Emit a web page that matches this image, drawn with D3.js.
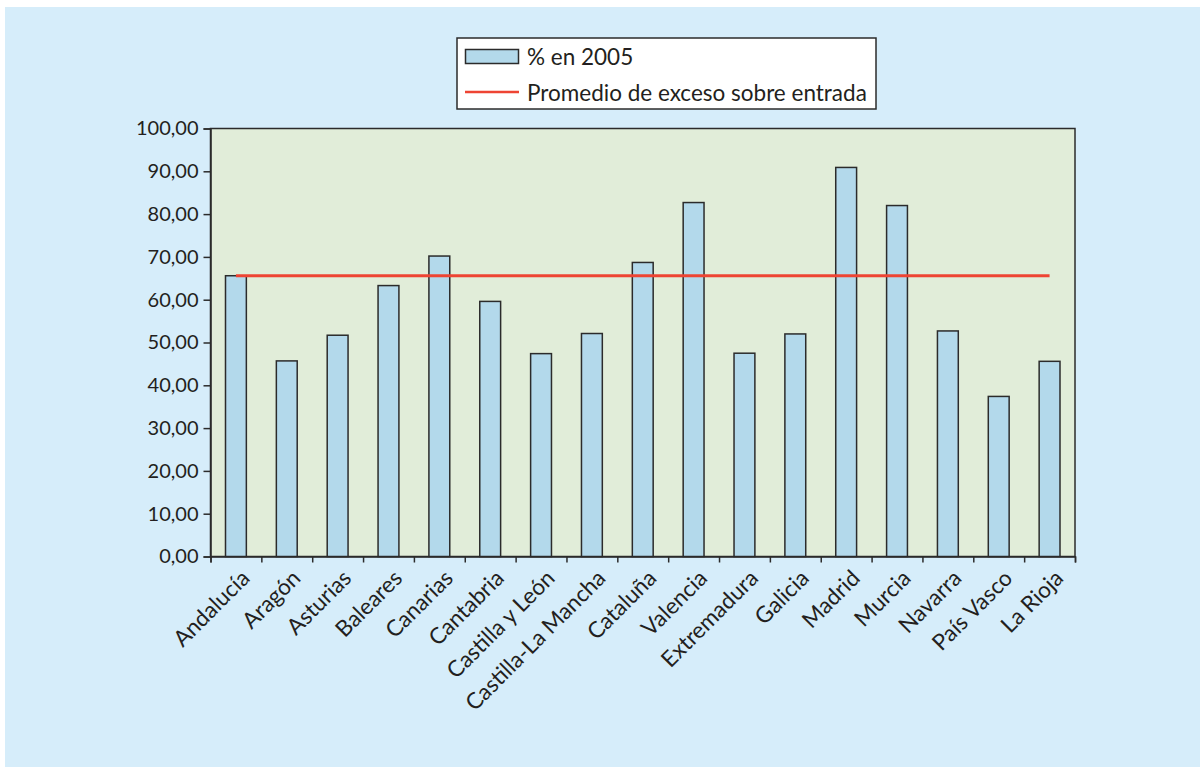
<!DOCTYPE html>
<html>
<head>
<meta charset="utf-8">
<script src="https://cdn.jsdelivr.net/npm/d3@7"></script>
<style>
  html, body { margin: 0; padding: 0; background: #ffffff; }
  svg { display: block; }
  text { font-family: Lato, "Open Sans", sans-serif; fill: #231f20; }
</style>
</head>
<body>
<svg id="chart" width="1200" height="767"></svg>
<script>
const categories = ["Andalucía","Aragón","Asturias","Baleares","Canarias","Cantabria","Castilla y León","Castilla-La Mancha","Cataluña","Valencia","Extremadura","Galicia","Madrid","Murcia","Navarra","País Vasco","La Rioja"];
const values2005 = [65.6, 45.7, 51.7, 63.3, 70.2, 59.6, 47.4, 52.1, 68.7, 82.7, 47.5, 52.0, 90.9, 82.0, 52.7, 37.4, 45.6];
const promedio = [65.6, 65.6, 65.6, 65.6, 65.6, 65.6, 65.6, 65.6, 65.6, 65.6, 65.6, 65.6, 65.6, 65.6, 65.6, 65.6, 65.6];
const yTicks = [0, 10, 20, 30, 40, 50, 60, 70, 80, 90, 100];
const seriesNames = ["% en 2005", "Promedio de exceso sobre entrada"];

const svg = d3.select("#chart");
const W = 1200, H = 767;
const plot = { left: 210.5, right: 1075, top: 128.5, bottom: 556.5 };

svg.append("rect").attr("x", 5).attr("y", 7).attr("width", W - 5).attr("height", H - 7).attr("fill", "#d6edfa");

const x = d3.scaleBand().domain(categories).range([plot.left, plot.right]).paddingInner(0.59).paddingOuter(0.295);
const xTickScale = d3.scalePoint().domain(d3.range(categories.length + 1)).range([plot.left, plot.right]);
const y = d3.scaleLinear().domain([0, 100]).range([plot.bottom, plot.top]);

svg.append("rect").attr("x", plot.left).attr("y", plot.top)
  .attr("width", plot.right - plot.left).attr("height", plot.bottom - plot.top)
  .attr("fill", "#e1edd9").attr("stroke", "#2b2b2b").attr("stroke-width", 1.5);

// bars
svg.append("g").selectAll("rect").data(values2005).join("rect")
  .attr("x", (d, i) => x(categories[i]))
  .attr("y", d => y(d))
  .attr("width", x.bandwidth())
  .attr("height", d => y(0) - y(d))
  .attr("fill", "#b3d9eb").attr("stroke", "#2b2b2b").attr("stroke-width", 1.5);

// average line
const cx = c => x(c) + x.bandwidth() / 2;
svg.append("path")
  .datum(promedio)
  .attr("d", d3.line().x((d, i) => cx(categories[i])).y(d => y(d)))
  .attr("fill", "none").attr("stroke", "#ee4433").attr("stroke-width", 3);

// y axis
const yAxis = svg.append("g").attr("transform", `translate(${plot.left},0)`)
  .call(d3.axisLeft(y).tickValues(yTicks).tickSize(7).tickPadding(5)
    .tickFormat(d => d3.format(".2f")(d).replace(".", ",")));
yAxis.select(".domain").attr("stroke", "#2b2b2b").attr("stroke-width", 1.5);
yAxis.selectAll(".tick line").attr("stroke", "#2b2b2b").attr("stroke-width", 1.5);
yAxis.selectAll(".tick text").attr("font-size", 20).attr("fill", "#231f20")
  .style("font-family", "Lato, 'Open Sans', sans-serif");

// x axis ticks (between categories)
const xAxis = svg.append("g").attr("transform", `translate(0,${plot.bottom})`)
  .call(d3.axisBottom(xTickScale).tickSize(6).tickFormat(""));
xAxis.select(".domain").attr("stroke", "#2b2b2b").attr("stroke-width", 1.5);
xAxis.selectAll(".tick line").attr("stroke", "#2b2b2b").attr("stroke-width", 1.5);

// x labels
svg.append("g").selectAll("text").data(categories).join("text")
  .attr("transform", d => `translate(${cx(d) + 4},${plot.bottom + 12}) rotate(-45)`)
  .attr("text-anchor", "end").attr("dy", "0.7em")
  .attr("font-size", 22.5)
  .text(d => d);

// legend
const lg = svg.append("g");
lg.append("rect").attr("x", 457).attr("y", 38).attr("width", 419).attr("height", 71)
  .attr("fill", "#ffffff").attr("stroke", "#2b2b2b").attr("stroke-width", 1.5);
lg.append("rect").attr("x", 465.5).attr("y", 49.5).attr("width", 53).attr("height", 14)
  .attr("fill", "#b3d9eb").attr("stroke", "#2b2b2b").attr("stroke-width", 1.5);
lg.append("line").attr("x1", 465).attr("x2", 519).attr("y1", 92).attr("y2", 92)
  .attr("stroke", "#ee4433").attr("stroke-width", 2.5);
lg.append("text").attr("x", 527).attr("y", 65).attr("font-size", 22.5).text(seriesNames[0]);
lg.append("text").attr("x", 527).attr("y", 101).attr("font-size", 22.5).text(seriesNames[1]);
</script>
</body>
</html>
